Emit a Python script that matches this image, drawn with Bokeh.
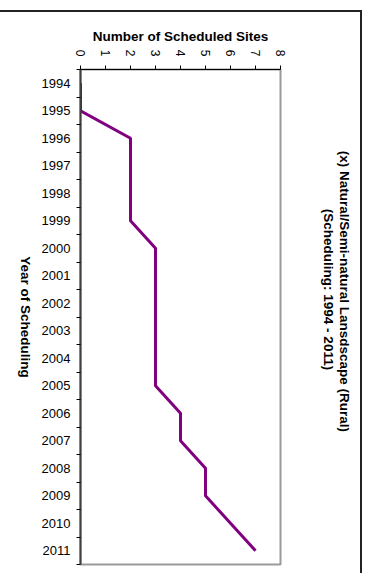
import math
import numpy as np
from bokeh.plotting import figure
from bokeh.layouts import row
from bokeh.models import Range1d, LinearAxis, FixedTicker
from bokeh.core.properties import value
from bokeh.embed import file_html
from bokeh.resources import INLINE

# Scheduling years and cumulative number of scheduled sites
years = [str(y) for y in range(1994, 2012)]
sites = [0, 0, 2, 2, 2, 2, 3, 3, 3, 3, 3, 3, 4, 4, 5, 5, 6, 7]
site_ticks = [0, 1, 2, 3, 4, 5, 6, 7, 8]

title_lines = ["(x) Natural/Semi-natural Lansdscape (Rural)", "(Scheduling: 1994 - 2011)"]
x_title = "Number of Scheduled Sites"
y_title = "Year of Scheduling"

FONT = "Liberation Sans"
TOP, BOTTOM = 57, 11
EDGE = "2px solid #222222"

# each year occupies one band; the value sits in the middle of its band
band_centres = np.arange(len(years)) + 0.5
band_edges = np.arange(len(years) + 1)
year_range = Range1d(len(years), 0)


def side_panel(width):
    """Plain figure used to carry rotated text beside the chart."""
    f = figure(width=width, height=563, x_range=Range1d(0, width), y_range=year_range,
               output_backend="svg", toolbar_location=None,
               x_axis_location=None, y_axis_location=None,
               min_border_left=0, min_border_right=0,
               min_border_top=TOP, min_border_bottom=BOTTOM)
    f.outline_line_color = None
    f.xgrid.visible = False
    f.ygrid.visible = False
    f.background_fill_color = "white"
    f.border_fill_color = "white"
    f.margin = (10, 0, 0, 0)
    return f


# left strip: vertical axis title, reading downwards
left = side_panel(38)
left.styles = {"border-top": EDGE}
left.text(x=[25], y=[len(years) / 2], text=[y_title], angle=-math.pi / 2,
          text_align="center", text_baseline="middle",
          text_font=value(FONT), text_font_style="bold",
          text_font_size="13.5px", text_color="black")

# main chart
p = figure(
    width=254, height=563,
    x_range=Range1d(0, 8), y_range=year_range,
    output_backend="svg", toolbar_location=None,
    x_axis_location=None, y_axis_location=None,
    min_border_left=42, min_border_right=12,
    min_border_top=TOP, min_border_bottom=BOTTOM,
)
p.margin = (10, 0, 0, 0)
p.styles = {"border-top": EDGE}
p.background_fill_color = "white"
p.border_fill_color = "white"
p.outline_line_color = "#9a9a9a"
p.outline_line_width = 2
p.xgrid.visible = False
p.ygrid.visible = False

# value axis along the top
xa = LinearAxis(ticker=FixedTicker(ticks=site_ticks))
xa.axis_label = x_title
xa.axis_label_text_font = FONT
xa.axis_label_text_font_style = "bold"
xa.axis_label_text_font_size = "13.5px"
xa.axis_label_text_color = "black"
xa.axis_label_standoff = 3
xa.major_label_orientation = -math.pi / 2
xa.major_label_text_font = FONT
xa.major_label_text_font_size = "12px"
xa.major_label_text_color = "black"
xa.major_label_standoff = 9
xa.major_tick_out = 4
xa.major_tick_in = 0
xa.minor_tick_line_color = None
xa.axis_line_color = "black"
xa.axis_line_width = 1
xa.major_tick_line_color = "black"
p.add_layout(xa, "above")

# year axis on the left: labels centred in bands, ticks on band edges
ya = LinearAxis(ticker=FixedTicker(ticks=list(band_centres), minor_ticks=list(band_edges)))
ya.major_label_overrides = {float(c): y for c, y in zip(band_centres, years)}
ya.major_label_text_font = FONT
ya.major_label_text_font_size = "13px"
ya.major_label_text_color = "black"
ya.major_label_standoff = 6
ya.major_tick_out = 0
ya.major_tick_in = 0
ya.major_tick_line_color = None
ya.minor_tick_out = 4
ya.minor_tick_in = 0
ya.minor_tick_line_color = "black"
ya.axis_line_color = "#404040"
ya.axis_line_width = 2
p.add_layout(ya, "left")

p.line(x=sites, y=band_centres, line_color="#800080", line_width=3)

# right strip: two-line chart title, reading downwards
right = side_panel(70)
right.styles = {"border-top": EDGE, "border-right": EDGE}
right.text(x=[52, 36], y=[8.07, 8.0], text=title_lines, angle=-math.pi / 2,
           text_align="center", text_baseline="middle",
           text_font=value(FONT), text_font_style="bold",
           text_font_size="13.5px", text_color="black")

layout = row(left, p, right)
open("out.html", "w").write(file_html(layout, INLINE))
